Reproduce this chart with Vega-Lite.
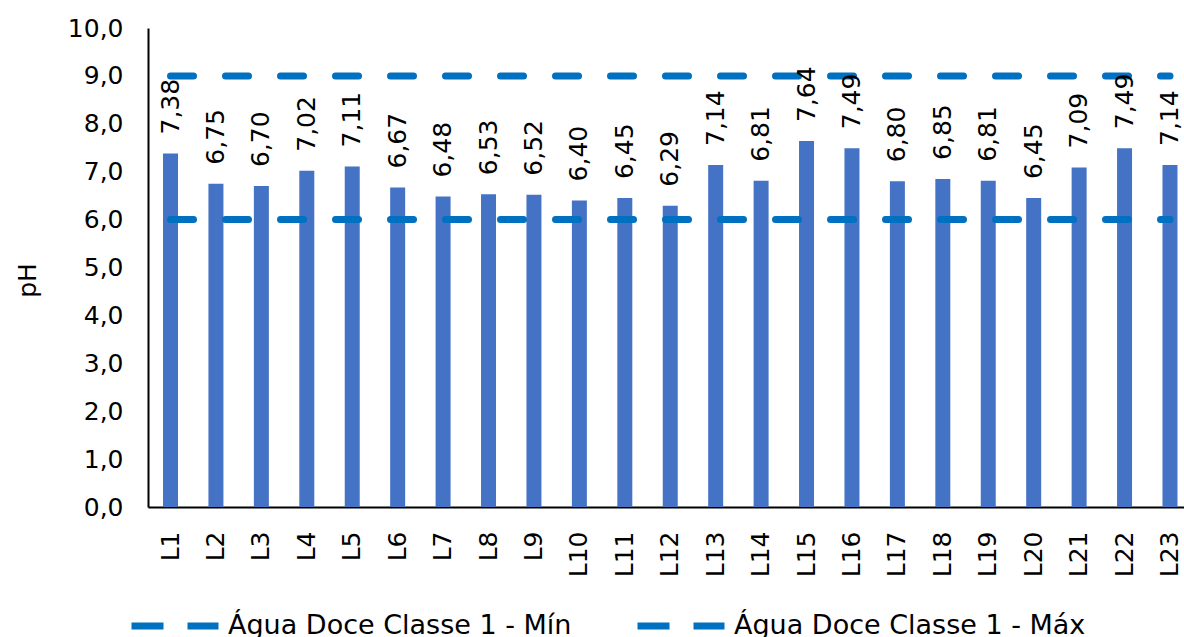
{
  "$schema": "https://vega.github.io/schema/vega-lite/v6.json",
  "autosize": {"type": "none"},
  "width": 1036,
  "height": 479,
  "padding": {"left": 148, "top": 28, "right": 0, "bottom": 130},
  "background": "white",
  "config": {
    "view": {"stroke": null},
    "font": "DejaVu Sans",
    "locale": {"number": {"decimal": ",", "thousands": ".", "grouping": [3], "currency": ["", ""]}}
  },
  "datasets": {
    "ph": [
      {"ponto": "L1", "ph": 7.38},
      {"ponto": "L2", "ph": 6.75},
      {"ponto": "L3", "ph": 6.70},
      {"ponto": "L4", "ph": 7.02},
      {"ponto": "L5", "ph": 7.11},
      {"ponto": "L6", "ph": 6.67},
      {"ponto": "L7", "ph": 6.48},
      {"ponto": "L8", "ph": 6.53},
      {"ponto": "L9", "ph": 6.52},
      {"ponto": "L10", "ph": 6.40},
      {"ponto": "L11", "ph": 6.45},
      {"ponto": "L12", "ph": 6.29},
      {"ponto": "L13", "ph": 7.14},
      {"ponto": "L14", "ph": 6.81},
      {"ponto": "L15", "ph": 7.64},
      {"ponto": "L16", "ph": 7.49},
      {"ponto": "L17", "ph": 6.80},
      {"ponto": "L18", "ph": 6.85},
      {"ponto": "L19", "ph": 6.81},
      {"ponto": "L20", "ph": 6.45},
      {"ponto": "L21", "ph": 7.09},
      {"ponto": "L22", "ph": 7.49},
      {"ponto": "L23", "ph": 7.14}
    ],
    "limites": [
      {"serie": "Água Doce Classe 1 - Mín", "limite": 6, "inicio": "L1", "fim": "L23"},
      {"serie": "Água Doce Classe 1 - Máx", "limite": 9, "inicio": "L1", "fim": "L23"}
    ]
  },
  "layer": [
    {
      "data": {"name": "ph"},
      "mark": {"type": "bar", "color": "#4472C4"},
      "encoding": {
        "x": {
          "field": "ponto", "type": "nominal", "sort": null,
          "scale": {"paddingInner": 0.67, "paddingOuter": 0.237, "align": 0.697},
          "axis": {
            "title": null, "labelAngle": 270, "labelFontSize": 25, "labelColor": "#000000",
            "labelFont": "DejaVu Sans", "labelPadding": 24, "ticks": false,
            "domainColor": "#000000", "domainWidth": 2, "labelBaseline": "middle", "labelAlign": "right"
          }
        },
        "y": {
          "field": "ph", "type": "quantitative",
          "scale": {"domain": [0, 10], "nice": false},
          "axis": {
            "title": "pH", "values": [0, 1, 2, 3, 4, 5, 6, 7, 8, 9, 10], "format": ".1f",
            "labelFontSize": 25, "labelColor": "#000000", "labelFont": "DejaVu Sans",
            "labelPadding": 25, "ticks": false, "grid": false,
            "domainColor": "#000000", "domainWidth": 2,
            "titleFontSize": 25, "titleFontWeight": "normal", "titleColor": "#000000", "titleFont": "DejaVu Sans",
            "titleAngle": 270, "titleX": -121, "titleY": 252, "titleAlign": "center", "titleBaseline": "middle"
          }
        }
      }
    },
    {
      "data": {"name": "limites"},
      "mark": {"type": "rule", "strokeWidth": 7, "strokeDash": [23, 32], "strokeCap": "round"},
      "encoding": {
        "x": {"field": "inicio", "type": "nominal", "sort": null},
        "x2": {"field": "fim"},
        "y": {"field": "limite", "type": "quantitative"},
        "color": {
          "field": "serie", "type": "nominal",
          "scale": {"domain": ["Água Doce Classe 1 - Mín", "Água Doce Classe 1 - Máx"], "range": ["#0070C0", "#0070C0"]},
          "legend": {
            "title": null, "orient": "none", "direction": "horizontal", "legendX": -20, "legendY": 551,
            "padding": 0, "symbolType": "stroke", "symbolSize": 7569, "symbolStrokeWidth": 7,
            "symbolDash": [32, 24], "labelFontSize": 27, "labelFont": "DejaVu Sans", "labelColor": "#000000",
            "labelOffset": 6, "columnPadding": 51, "labelLimit": 600
          }
        }
      }
    },
    {
      "data": {"name": "ph"},
      "mark": {"type": "text", "angle": 270, "align": "left", "baseline": "middle", "dx": 19, "fontSize": 25, "font": "DejaVu Sans", "color": "#000000"},
      "encoding": {
        "x": {"field": "ponto", "type": "nominal", "sort": null},
        "y": {"field": "ph", "type": "quantitative"},
        "text": {"field": "ph", "type": "quantitative", "format": ".2f"}
      }
    }
  ]
}
